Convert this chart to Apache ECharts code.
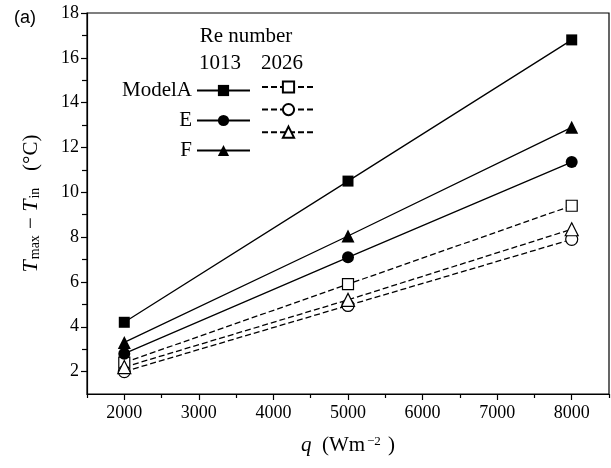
<!DOCTYPE html>
<html>
<head>
<meta charset="utf-8">
<script src="https://cdn.jsdelivr.net/npm/echarts@6/dist/echarts.min.js"></script>
<style>
  html, body { margin: 0; padding: 0; background: #fff; }
  #chart { width: 611px; height: 468px; }
</style>
</head>
<body>
<div id="chart"></div>
<script>
// heat flux (x axis)
const qValues = [2000, 5000, 8000];
// Tmax - Tin, Re = 1013
const modelA1013 = [4.2, 10.5, 16.8];
const modelE1013 = [2.8, 7.1, 11.35];
const modelF1013 = [3.3, 8.05, 12.9];
// Tmax - Tin, Re = 2026
const modelA2026 = [2.4, 5.9, 9.4];
const modelE2026 = [2.0, 4.95, 7.9];
const modelF2026 = [2.2, 5.2, 8.35];

const xLabels = [2000, 3000, 4000, 5000, 6000, 7000, 8000];
const xMinorTicks = [1500, 2500, 3500, 4500, 5500, 6500, 7500, 8500];
const yLabels = [2, 4, 6, 8, 10, 12, 14, 16, 18];
const yMinorTicks = [3, 5, 7, 9, 11, 13, 15, 17];

const serif = "Liberation Serif";
const dash = [6, 3];

function pairs(ys) {
  return qValues.map((q, i) => [q, ys[i]]);
}

function makeSeries(name, ys, symbol, filled, size) {
  return {
    name: name,
    type: "line",
    data: pairs(ys),
    symbol: symbol,
    symbolSize: size,
    lineStyle: { color: "#000", width: 1.3, type: filled ? "solid" : dash },
    itemStyle: filled
      ? { color: "#000", borderColor: "#000", borderWidth: 0 }
      : { color: "#fff", borderColor: "#000", borderWidth: 1.2 },
    emphasis: { disabled: true },
    z: filled ? 3 : 2,
  };
}

const chart = echarts.init(document.getElementById("chart"));

const option = {
  animation: false,
  textStyle: { fontFamily: serif, color: "#000" },
  grid: {
    left: 87,
    right: 2,
    top: 13,
    bottom: 74,
    show: true,
    borderColor: "#000",
    borderWidth: 1.2,
  },
  xAxis: [
    {
      type: "value",
      min: 1500,
      max: 8500,
      name: "{i|q}  (Wm{sup|−2} )",
      nameLocation: "middle",
      nameGap: 41,
      nameTextStyle: {
        fontFamily: serif,
        fontSize: 21,
        color: "#000",
        rich: {
          i: { fontFamily: serif, fontSize: 21, fontStyle: "italic", color: "#000" },
          sup: { fontFamily: serif, fontSize: 13, color: "#000", verticalAlign: "top", padding: [0, 2, 8, 2] },
        },
      },
      axisLine: { lineStyle: { color: "#000", width: 1.2 } },
      axisTick: { customValues: xLabels, length: 6, lineStyle: { color: "#000", width: 1.2 } },
      axisLabel: {
        customValues: xLabels,
        formatter: (v) => String(v),
        margin: 10,
        fontFamily: serif,
        fontSize: 18,
        color: "#000",
      },
      splitLine: { show: false },
    },
    {
      type: "value",
      position: "bottom",
      min: 1500,
      max: 8500,
      axisLine: { show: false },
      axisTick: { customValues: xMinorTicks, length: 4, lineStyle: { color: "#000", width: 1.2 } },
      axisLabel: { show: false },
      splitLine: { show: false },
    },
  ],
  yAxis: [
    {
      type: "value",
      min: 1,
      max: 18,
      name: "{i|T}{sub|max} − {i|T}{sub|in}   (°C)",
      nameLocation: "middle",
      nameRotate: 90,
      nameGap: 45,
      nameTextStyle: {
        fontFamily: serif,
        fontSize: 21,
        color: "#000",
        rich: {
          i: { fontFamily: serif, fontSize: 22, fontStyle: "italic", color: "#000" },
          sub: { fontFamily: serif, fontSize: 14, color: "#000", verticalAlign: "bottom", padding: [6, 1, 0, 1] },
        },
      },
      axisLine: { lineStyle: { color: "#000", width: 1.2 } },
      axisTick: { customValues: yLabels, length: 6, lineStyle: { color: "#000", width: 1.2 } },
      axisLabel: {
        customValues: yLabels,
        formatter: (v) => String(v),
        margin: 8,
        fontFamily: serif,
        fontSize: 18,
        color: "#000",
      },
      splitLine: { show: false },
    },
    {
      type: "value",
      position: "left",
      min: 1,
      max: 18,
      axisLine: { show: false },
      axisTick: { customValues: yMinorTicks, length: 5, lineStyle: { color: "#000", width: 1.2 } },
      axisLabel: { show: false },
      splitLine: { show: false },
    },
  ],
  legend: [
    {
      data: ["ModelA", "E", "F"],
      orient: "vertical",
      align: "right",
      left: 117,
      top: 75,
      itemWidth: 53,
      itemHeight: 14,
      itemGap: 9,
      selectedMode: false,
      textStyle: { fontFamily: serif, fontSize: 21, color: "#000" },
    },
    {
      data: ["ModelA 2026", "E 2026", "F 2026"],
      orient: "vertical",
      left: 256,
      top: 75,
      itemWidth: 53,
      itemHeight: 14,
      itemGap: 9,
      selectedMode: false,
      formatter: () => "",
      textStyle: { fontFamily: serif, fontSize: 21, color: "#000" },
    },
  ],
  graphic: [
    {
      type: "text",
      left: 14,
      top: 9,
      style: { text: "(a)", fontFamily: "Liberation Sans", fontSize: 18, fill: "#000" },
    },
    {
      type: "text",
      x: 246,
      y: 36,
      style: { text: "Re number", fontFamily: serif, fontSize: 21, fill: "#000", align: "center", verticalAlign: "middle" },
    },
    {
      type: "text",
      x: 220,
      y: 63,
      style: { text: "1013", fontFamily: serif, fontSize: 21, fill: "#000", align: "center", verticalAlign: "middle" },
    },
    {
      type: "text",
      x: 282,
      y: 63,
      style: { text: "2026", fontFamily: serif, fontSize: 21, fill: "#000", align: "center", verticalAlign: "middle" },
    },
  ],
  series: [
    makeSeries("ModelA", modelA1013, "rect", true, 11),
    makeSeries("E", modelE1013, "circle", true, 12),
    makeSeries("F", modelF1013, "triangle", true, 13),
    makeSeries("ModelA 2026", modelA2026, "rect", false, 11),
    makeSeries("E 2026", modelE2026, "circle", false, 12),
    makeSeries("F 2026", modelF2026, "triangle", false, 13),
  ],
};

chart.setOption(option);
</script>
</body>
</html>
